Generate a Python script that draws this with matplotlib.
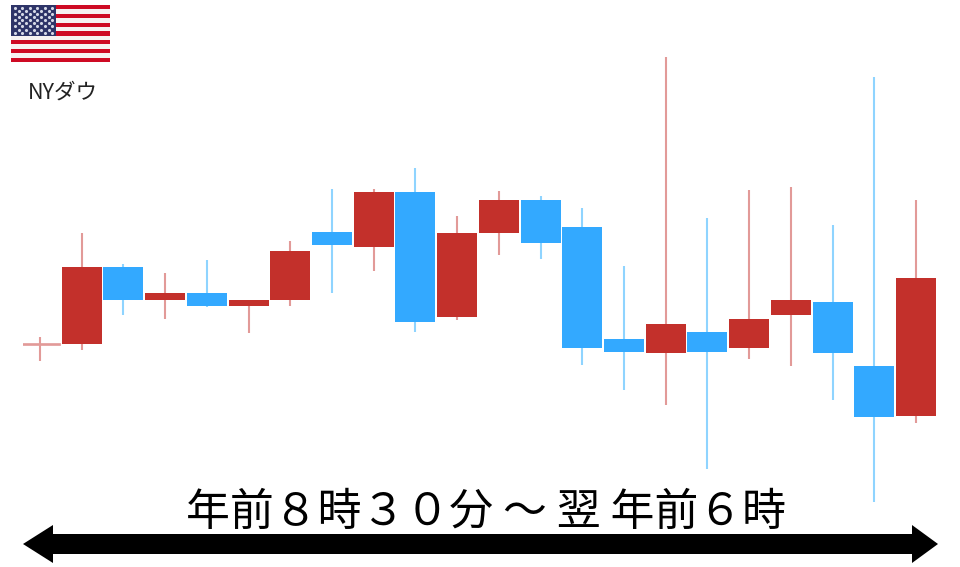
import numpy as np
import matplotlib
matplotlib.use("Agg")
import matplotlib.pyplot as plt
from matplotlib.patches import Rectangle, Polygon

plt.rcParams['font.family'] = ['Noto Sans CJK JP', 'DejaVu Sans']

# price values (arbitrary units)
opens  = [155, 156, 233, 200, 207, 194, 200, 268, 253, 308, 183, 267, 300, 273, 161, 147, 168, 152, 185, 198, 134, 84]
closes = [156, 233, 200, 207, 194, 200, 249, 255, 308, 178, 267, 300, 257, 152, 148, 176, 148, 181, 200, 147, 83, 222]
highs  = [163, 267, 236, 227, 240, 200, 259, 311, 311, 332, 284, 309, 304, 292, 234, 443, 282, 310, 313, 275, 423, 300]
lows   = [139, 150, 185, 181, 193, 167, 194, 207, 229, 168, 180, 245, 241, 135, 110, 95, 31, 141, 134, 100, -2, 77]
label = "NYダウ"
span_label = "年前８時３０分 ～ 翌 年前６時"

RED = "#C3302B"
BLUE = "#33A9FF"
RED_W = "#E29A98"
BLUE_W = "#8FD4FF"

fig = plt.figure(figsize=(9.6, 5.67), dpi=100)
W, H = 960, 567

def px_axes(x0, y0, x1, y1, **kw):
    return fig.add_axes([x0 / W, 1 - y1 / H, (x1 - x0) / W, (y1 - y0) / H], **kw)

# background overlay in pixel coordinates
bg = px_axes(0, 0, W, H)
bg.set_xlim(0, W); bg.set_ylim(H, 0); bg.axis("off")

# candlesticks
ax = px_axes(23, 50, 936.8, 510)
ax.patch.set_alpha(0)
ax.set_xlim(-0.409, 21.5)
ax.set_ylim(-10, 450)
ax.axis("off")
for i, (o, c, h, l) in enumerate(zip(opens, closes, highs, lows)):
    up = c >= o
    body = RED if up else BLUE
    wick = RED_W if up else BLUE_W
    ax.vlines(i, l, h, color=wick, lw=1.5, zorder=1)
    ax.add_patch(Rectangle((i - 0.48, min(o, c)), 0.96, abs(c - o), facecolor=body,
                           edgecolor=wick if abs(c - o) < 3 else "none", lw=1.2, zorder=2))

# flag
fl = px_axes(11, 5, 110, 62)
fl.set_xlim(0, 1); fl.set_ylim(13, 0); fl.axis("off")
for s in range(13):
    fl.add_patch(Rectangle((0, s), 1, 1, facecolor="#CE0A24" if s % 2 == 0 else "#F6F2F2", edgecolor="none"))
fl.add_patch(Rectangle((0, 0), 0.455, 7, facecolor="#2E3468", edgecolor="none"))
star_rows = np.arange(9)
for r in star_rows:
    n = 6 if r % 2 == 0 else 5
    xs = (np.arange(n) * 2 + (1 if r % 2 == 0 else 2)) * 0.455 / 12
    fl.scatter(xs, np.full(n, (r + 1) * 0.7), s=5, c="#D5D8E6", marker="o", linewidths=0)

bg.text(62.5, 93, label, ha="center", va="center", fontsize=15.5, color="#222222")

# span arrow
bg.add_patch(Polygon([(23, 544), (53, 525), (53, 534), (912, 534), (912, 525), (938, 544),
                      (912, 563), (912, 554), (53, 554), (53, 563)], closed=True,
                     facecolor="black", edgecolor="none"))
bg.text(486, 512, span_label, ha="center", va="center", fontsize=31.6, color="black")

fig.savefig("out.png", dpi=100)
